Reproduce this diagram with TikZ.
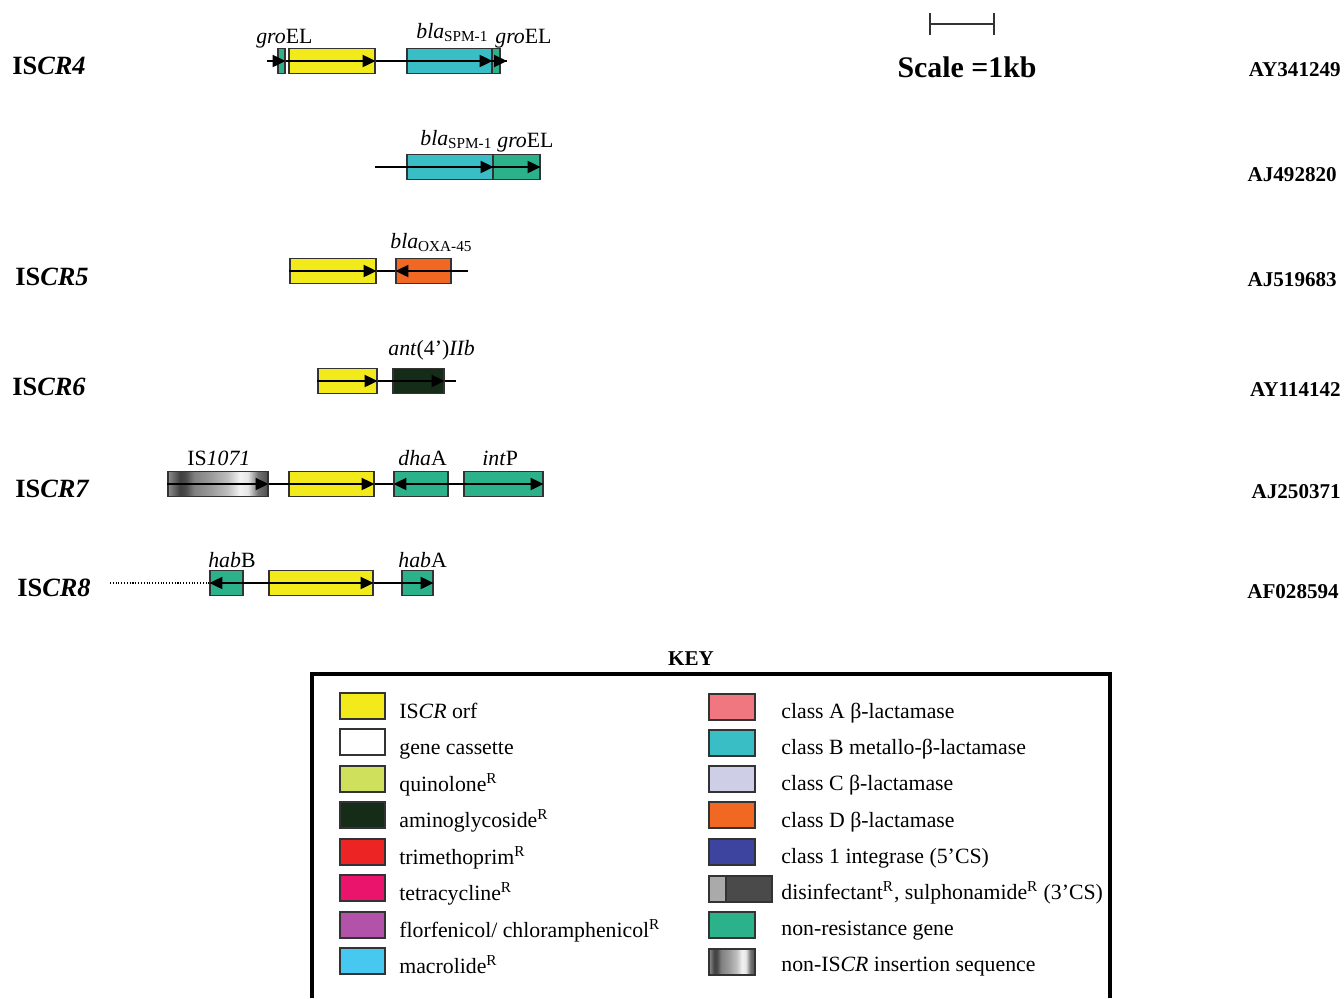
\documentclass[tikz,border=0pt]{standalone}
\usepackage{fontspec}
\setmainfont{Liberation Serif}
\usetikzlibrary{arrows.meta,positioning}
\definecolor{iscrorf}{RGB}{243,234,28}
\definecolor{nonres}{RGB}{44,178,139}
\definecolor{classB}{RGB}{58,190,198}
\definecolor{classD}{RGB}{241,104,34}
\definecolor{aminogly}{RGB}{20,44,24}
\definecolor{quinolone}{RGB}{206,224,92}
\definecolor{trimeth}{RGB}{236,36,36}
\definecolor{tetra}{RGB}{234,20,108}
\definecolor{florf}{RGB}{178,82,168}
\definecolor{macro}{RGB}{70,200,240}
\definecolor{classA}{RGB}{240,118,128}
\definecolor{classC}{RGB}{206,206,230}
\definecolor{integrase}{RGB}{60,68,160}
\definecolor{disinf}{RGB}{170,170,170}
\definecolor{sulph}{RGB}{74,74,74}
\pgfdeclarehorizontalshading{isseq}{100bp}{color(0bp)=(black!45); color(25bp)=(black!45); color(31bp)=(black!75); color(34bp)=(black!70); color(38bp)=(black!50); color(46bp)=(black!40); color(55bp)=(black!25); color(61bp)=(black!5); color(65bp)=(black!10); color(70bp)=(black!55); color(75bp)=(black!70); color(100bp)=(black!70)}

\begin{document}
\begin{tikzpicture}[x=0.02cm, y=-0.02cm]
    \tikzstyle{gene} = [rectangle, draw=black!80, line width=0.7pt, minimum height=0.5cm, inner sep=0pt]
    \tikzstyle{orf} = [-{Triangle[length=2.6mm,width=2.4mm]}, line width=1.1pt]
    \tikzstyle{backbone} = [line width=0.7pt]
    \tikzstyle{genename} = [anchor=base west, inner sep=0pt, font=\fontsize{12.4}{15}\selectfont]
    \tikzstyle{isname} = [anchor=base west, inner sep=0pt, font=\fontsize{15}{18}\selectfont\bfseries]
    \tikzstyle{accession} = [anchor=base east, inner sep=0pt, font=\fontsize{12}{14}\selectfont\bfseries]
    \tikzstyle{swatch} = [rectangle, draw=black!80, line width=1pt, minimum width=0.9cm, minimum height=0.52cm, inner sep=0pt]
    \tikzstyle{keytext} = [anchor=base west, inner sep=0pt, font=\fontsize{12.4}{15}\selectfont]

    \useasboundingbox (0,0) rectangle (1344,998);

    \node[isname] (iscr4) at (12,74) {IS\textit{CR4}};
    \node[isname] (iscr5) at (15,285) {IS\textit{CR5}};
    \node[isname] (iscr6) at (12,395) {IS\textit{CR6}};
    \node[isname] (iscr7) at (15,497) {IS\textit{CR7}};
    \node[isname] (iscr8) at (17,596) {IS\textit{CR8}};

    \node[accession] (acc1) at (1341,76) {AY341249};
    \node[accession] (acc2) at (1337,181) {AJ492820};
    \node[accession] (acc3) at (1337,286) {AJ519683};
    \node[accession] (acc4) at (1341,396) {AY114142};
    \node[accession] (acc5) at (1341,498) {AJ250371};
    \node[accession] (acc6) at (1339,598) {AF028594};

    \coordinate (r4s) at (267,61);
    \coordinate (r4e) at (507,61);
    \draw[backbone] (r4s) -- (r4e);
    \node[gene, fill=nonres, minimum width=0.14cm] (gro4a) at (281.5,61) {};
    \node[gene, fill=iscrorf, minimum width=1.72cm] (orf4) at (332,61) {};
    \node[gene, fill=classB, minimum width=1.70cm] (spm4) at (449.5,61) {};
    \node[gene, fill=nonres, minimum width=0.16cm] (gro4b) at (496,61) {};
    \draw[orf] (r4s) -- (gro4a.east);
    \draw[orf] (orf4.west) -- (orf4.east);
    \draw[orf] (spm4.west) -- (spm4.east);
    \draw[orf] (gro4b.west) -- (r4e);
    \node[genename] (gro4al) at (256,43) {\textit{gro}EL};
    \node[genename] (spm4l) at (416,38) {\textit{bla}\textsubscript{SPM-1}};
    \node[genename] (gro4bl) at (495,43) {\textit{gro}EL};

    \coordinate (r2s) at (375,167);
    \coordinate (r2e) at (407,167);
    \draw[backbone] (r2s) -- (r2e);
    \node[gene, fill=classB, minimum width=1.72cm] (spm2) at (450,167) {};
    \node[gene, fill=nonres, minimum width=0.94cm] (gro2) at (516.5,167) {};
    \draw[orf] (spm2.west) -- (spm2.east);
    \draw[orf] (gro2.west) -- (gro2.east);
    \node[genename] (spm2l) at (420,145) {\textit{bla}\textsubscript{SPM-1}};
    \node[genename] (gro2l) at (497,147) {\textit{gro}EL};

    \coordinate (r5s) at (290,271);
    \coordinate (r5e) at (468,271);
    \draw[backbone] (r5s) -- (r5e);
    \node[gene, fill=iscrorf, minimum width=1.72cm] (orf5) at (333,271) {};
    \node[gene, fill=classD, minimum width=1.10cm] (oxa5) at (423.5,271) {};
    \draw[orf] (orf5.west) -- (orf5.east);
    \draw[orf] (oxa5.east) -- (oxa5.west);
    \node[genename] (oxa5l) at (390,248) {\textit{bla}\textsubscript{OXA-45}};

    \coordinate (r6s) at (318,381);
    \coordinate (r6e) at (456,381);
    \draw[backbone] (r6s) -- (r6e);
    \node[gene, fill=iscrorf, minimum width=1.18cm] (orf6) at (347.5,381) {};
    \node[gene, fill=aminogly, minimum width=1.02cm] (ant6) at (418.5,381) {};
    \draw[orf] (orf6.west) -- (orf6.east);
    \draw[orf] (ant6.west) -- (ant6.east);
    \node[genename] (ant6l) at (388,355) {\textit{ant}(4’)\textit{IIb}};

    \coordinate (r7s) at (168,484);
    \coordinate (r7e) at (543,484);
    \draw[backbone] (r7s) -- (r7e);
    \node[gene, shading=isseq, minimum width=2.0cm] (is7) at (218,484) {};
    \node[gene, fill=iscrorf, minimum width=1.70cm] (orf7) at (331.5,484) {};
    \node[gene, fill=nonres, minimum width=1.08cm] (dha7) at (421,484) {};
    \node[gene, fill=nonres, minimum width=1.58cm] (int7) at (503.5,484) {};
    \draw[orf] (is7.west) -- (is7.east);
    \draw[orf] (orf7.west) -- (orf7.east);
    \draw[orf] (dha7.east) -- (dha7.west);
    \draw[orf] (int7.west) -- (int7.east);
    \node[genename] (is7l) at (187,465) {IS\textit{1071}};
    \node[genename] (dha7l) at (398,465) {\textit{dha}A};
    \node[genename] (int7l) at (482,465) {\textit{int}P};

    \coordinate (r8d) at (110,583);
    \coordinate (r8s) at (210,583);
    \coordinate (r8e) at (433,583);
    \draw[densely dotted, line width=0.6pt] (r8d) -- (r8s);
    \draw[backbone, line width=0.9pt] (r8s) -- (r8e);
    \node[gene, fill=nonres, minimum width=0.66cm] (habB8) at (226.5,583) {};
    \node[gene, fill=iscrorf, minimum width=2.08cm] (orf8) at (321,583) {};
    \node[gene, fill=nonres, minimum width=0.62cm] (habA8) at (417.5,583) {};
    \draw[orf] (habB8.east) -- (habB8.west);
    \draw[orf] (orf8.west) -- (orf8.east);
    \draw[orf] (habA8.west) -- (habA8.east);
    \node[genename] (habB8l) at (208,567) {\textit{hab}B};
    \node[genename] (habA8l) at (398,567) {\textit{hab}A};

    \coordinate (sbl) at (929,24);
    \coordinate (sbr) at (995,24);
    \draw[{Bar[width=0.44cm]}-{Bar[width=0.44cm]}, line width=1.1pt, black!80] (sbl) -- (sbr);
    \node[anchor=base, inner sep=0pt, font=\fontsize{17}{20}\selectfont\bfseries] (scale) at (967,77) {Scale =1kb};

    \node[anchor=base, inner sep=0pt, font=\fontsize{12}{14}\selectfont\bfseries] (key) at (691,665) {KEY};
    \draw[line width=2.3pt] (312,998) -- (312,674) -- (1110,674) -- (1110,998);

    \node[swatch, fill=iscrorf] (k1) at (362.5,706) {};
    \node[swatch, fill=white] (k2) at (362.5,742) {};
    \node[swatch, fill=quinolone] (k3) at (362.5,779) {};
    \node[swatch, fill=aminogly] (k4) at (362.5,815) {};
    \node[swatch, fill=trimeth] (k5) at (362.5,852) {};
    \node[swatch, fill=tetra] (k6) at (362.5,888) {};
    \node[swatch, fill=florf] (k7) at (362.5,925) {};
    \node[swatch, fill=macro] (k8) at (362.5,961) {};
    \node[keytext] (t1) at (399,718) {IS\textit{CR} orf};
    \node[keytext] (t2) at (399,754) {gene cassette};
    \node[keytext] (t3) at (399,791) {quinolone\textsuperscript{R}};
    \node[keytext] (t4) at (399,827) {aminoglycoside\textsuperscript{R}};
    \node[keytext] (t5) at (399,864) {trimethoprim\textsuperscript{R}};
    \node[keytext] (t6) at (399,900) {tetracycline\textsuperscript{R}};
    \node[keytext] (t7) at (399,937) {florfenicol/ chloramphenicol\textsuperscript{R}};
    \node[keytext] (t8) at (399,973) {macrolide\textsuperscript{R}};

    \node[swatch, fill=classA, minimum width=0.92cm] (k9) at (732,707) {};
    \node[swatch, fill=classB, minimum width=0.92cm] (k10) at (732,743) {};
    \node[swatch, fill=classC, minimum width=0.92cm] (k11) at (732,779) {};
    \node[swatch, fill=classD, minimum width=0.92cm] (k12) at (732,815) {};
    \node[swatch, fill=integrase, minimum width=0.92cm] (k13) at (732,852) {};
    \node[swatch, fill=disinf, minimum width=0.34cm] (k14a) at (717.5,889) {};
    \node[swatch, fill=sulph, minimum width=0.92cm] (k14b) at (749,889) {};
    \node[swatch, fill=nonres, minimum width=0.92cm] (k15) at (732,925) {};
    \node[swatch, shading=isseq, minimum width=0.92cm] (k16) at (732,962) {};
    \node[keytext] (t9) at (781,718) {class A β-lactamase};
    \node[keytext] (t10) at (781,754) {class B metallo-β-lactamase};
    \node[keytext] (t11) at (781,790) {class C β-lactamase};
    \node[keytext] (t12) at (781,827) {class D β-lactamase};
    \node[keytext] (t13) at (781,863) {class 1 integrase (5’CS)};
    \node[keytext] (t14) at (781,899) {disinfectant\textsuperscript{R}, sulphonamide\textsuperscript{R} (3’CS)};
    \node[keytext] (t15) at (781,935) {non-resistance gene};
    \node[keytext] (t16) at (781,971) {non-IS\textit{CR} insertion sequence};
\end{tikzpicture}
\end{document}
